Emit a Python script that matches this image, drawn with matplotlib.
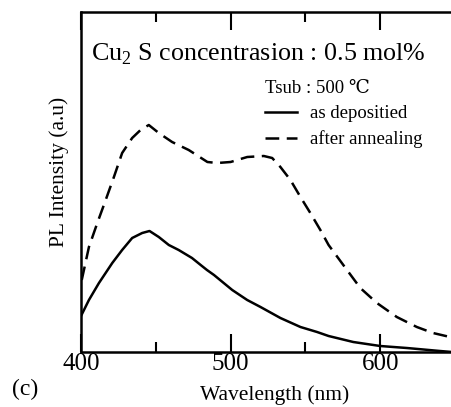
import numpy as np
import matplotlib
matplotlib.use("Agg")
import matplotlib.pyplot as plt
from matplotlib.ticker import MultipleLocator

plt.rcParams['font.family'] = ['Liberation Serif', 'DejaVu Serif']
plt.rcParams['mathtext.fontset'] = 'custom'
plt.rcParams['mathtext.rm'] = 'Liberation Serif'

# PL spectra (arbitrary units)
wl_dep = [400, 405.3, 412, 420.9, 427.5, 434.2, 440.9, 445.8, 452, 458.7,
          465.3, 474.2, 480, 484.2, 488.9, 501.1, 511.1, 520, 533.3, 546.7,
          557.8, 565.5, 582, 600, 617.8, 640, 648]
pl_dep = [36, 52, 69, 89, 102, 114, 119, 121, 115, 107,
          102, 94, 87, 82, 77, 62, 52, 45, 34, 25,
          20, 16, 10, 6, 4, 1, 0]

wl_ann = [400.5, 405.3, 410.9, 416.5, 422, 427.5, 434.2, 439.8, 445.3, 452,
          460.9, 472, 484.5, 491.1, 500, 511.1, 522.2, 527.8, 533.3, 540,
          546.7, 553.3, 560, 565.5, 577.8, 586.7, 597.8, 611.1, 624.5, 635.3,
          646.7]
pl_ann = [72, 105, 129, 152, 175, 199, 214, 222, 227, 219,
          210, 202, 190, 189, 190, 195, 196, 194, 185, 172,
          155, 139, 122, 107, 82, 64, 49, 35, 25, 19,
          15]

W, H = 452, 407
fig = plt.figure(figsize=(W / 100, H / 100), dpi=100)
left, right, top, bottom = 81, 452, 12, 352
ax = fig.add_axes([left / W, 1 - bottom / H, (right - left) / W, (bottom - top) / H])

ax.plot(wl_dep, pl_dep, color='black', lw=1.8, label='as depositied')
ax.plot(wl_ann, pl_ann, color='black', lw=1.8, dashes=(5.5, 3), label='after annealing')

ax.set_xlim(400, 648)
ax.set_ylim(0, 340)

for s in ax.spines.values():
    s.set_linewidth(1.8)

ax.xaxis.set_major_locator(MultipleLocator(100))
ax.xaxis.set_minor_locator(MultipleLocator(50))
ax.set_yticks([])
ax.tick_params(axis='x', which='both', direction='in', top=True, width=1.5, pad=1,
               labelsize=18)
ax.tick_params(axis='x', which='major', length=13)
ax.tick_params(axis='x', which='minor', length=7)

ax.set_xlabel('Wavelength (nm)', fontsize=15.5)
ax.xaxis.set_label_coords((275 - left) / (right - left), (bottom - 385) / (bottom - top))
ax.set_ylabel('PL Intensity (a.u)', fontsize=15.5)
ax.yaxis.set_label_coords((69 - left) / (right - left), (bottom - 172) / (bottom - top))

ax.text(0.027, (bottom - 54) / (bottom - top), r'Cu$_{\mathregular{2}}$ S concentrasion : 0.5 mol%',
        transform=ax.transAxes, fontsize=18.7, va='center', ha='left')

leg = ax.legend(title='Tsub : 500 ℃', loc='upper left',
                bbox_to_anchor=((265 - left) / (right - left), (bottom - 80) / (bottom - top)),
                frameon=False, fontsize=13.5, title_fontsize=13.5,
                handlelength=1.7, handletextpad=0.7, labelspacing=0.42,
                borderpad=0, borderaxespad=0)
leg._legend_box.align = 'left'
leg._legend_box.sep = 6

fig.text(25 / W, 1 - 389 / H, '(c)', fontsize=17, ha='center', va='center')

fig.savefig('out.png', dpi=100)
